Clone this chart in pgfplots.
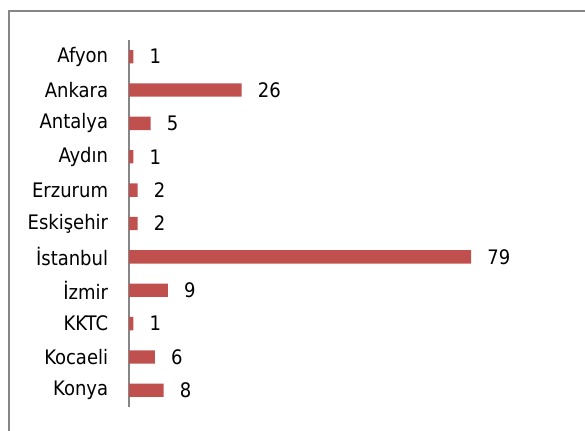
\documentclass[border=0pt]{standalone}
\usepackage{fontspec}
\setmainfont{DejaVu Sans Condensed}
\usepackage{pgfplots}
\pgfplotsset{compat=1.18}
\definecolor{barred}{RGB}{192,80,77}
\definecolor{framegray}{RGB}{134,134,134}

\begin{document}
\begin{tikzpicture}
% picture is 585 x 431 px, 1px = 0.75pt
\path[use as bounding box] (0,0) rectangle (438.75pt,323.25pt);
\draw[framegray, line width=1.1pt] (6.75pt,0) -- (6.75pt,315pt) -- (438.75pt,315pt);
\begin{axis}[
  at={(96.75pt,18pt)}, anchor=south west,
  scale only axis, width=292.3pt, height=275.25pt,
  xbar, bar width=10pt,
  xmin=0, xmax=90,
  ymin=-0.5, ymax=10.5, y dir=reverse,
  axis lines*=left, axis line style={-, draw=framegray, line width=1pt},
  x axis line style={draw=none},
  xtick=\empty,
  ytick={0,...,10},
  yticklabels={Afyon,Ankara,Antalya,Aydın,Erzurum,Eskişehir,İstanbul,İzmir,KKTC,Kocaeli,Konya},
  major tick length=0pt,
  yticklabel style={anchor=east, inner sep=0pt, xshift=-15.5pt, font=\fontsize{15}{18}\selectfont},
  /pgf/number format/assume math mode=true,
  nodes near coords,
  every node near coord/.append style={anchor=west, inner sep=0pt, xshift=12pt, text=black, font=\fontsize{15}{18}\selectfont},
]
\addplot[fill=barred, draw=none] coordinates {
  (1,0) (26,1) (5,2) (1,3) (2,4) (2,5) (79,6) (9,7) (1,8) (6,9) (8,10)
};
\end{axis}
\end{tikzpicture}
\end{document}
